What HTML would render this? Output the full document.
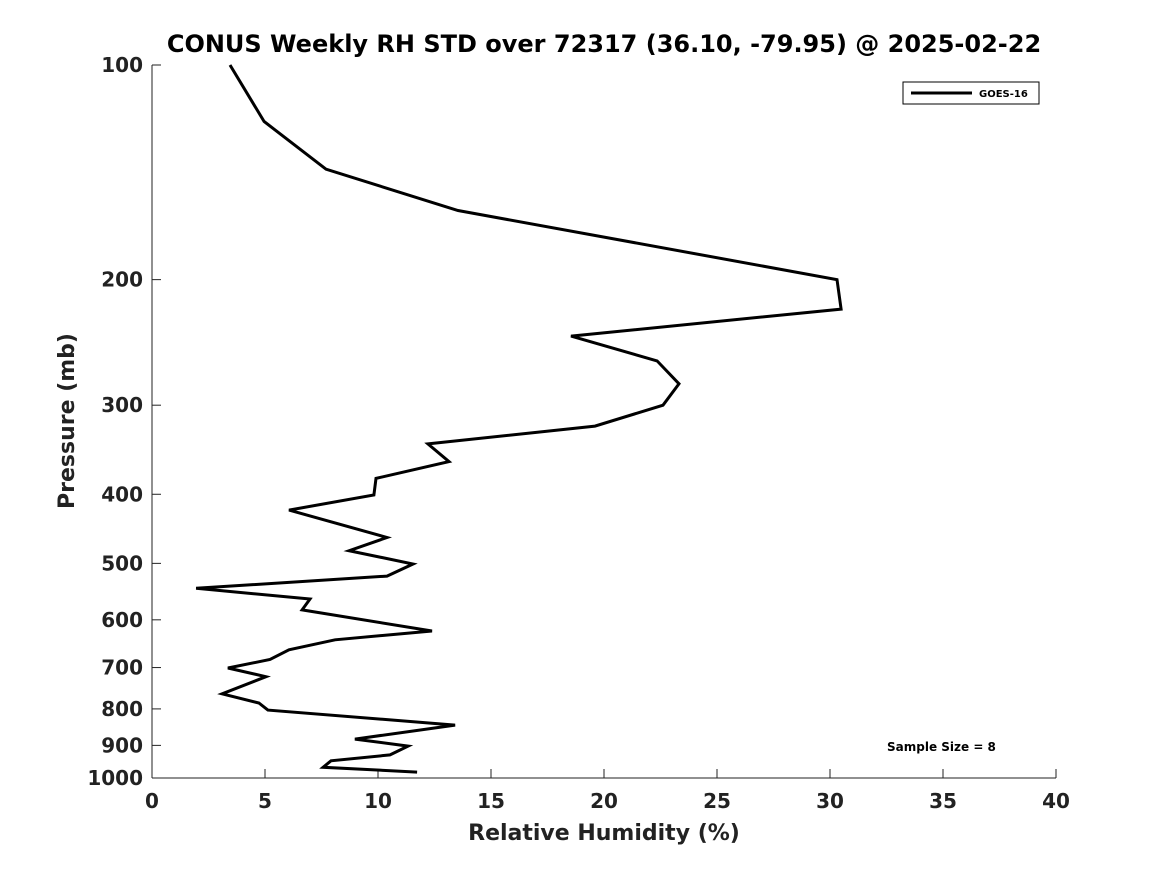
<!DOCTYPE html>
<html><head><meta charset="utf-8"><style>
html,body{margin:0;padding:0;background:#fff;}
svg text{font-family:"DejaVu Sans","Liberation Sans",sans-serif;font-weight:bold;fill:#222;}
</style></head><body>
<svg id="chart" width="1167" height="875" xmlns="http://www.w3.org/2000/svg">
<rect width="1167" height="875" fill="#fff"/>
<text x="604" y="52" font-size="24" text-anchor="middle" style="fill:#000">CONUS Weekly RH STD over 72317 (36.10, -79.95) @ 2025-02-22</text>
<g id="axes"></g>
<path id="series" fill="none" stroke="#000" stroke-width="3" stroke-linejoin="miter"/>
<g>
<rect x="903" y="82" width="136" height="22" fill="#fff" stroke="#000" stroke-width="1"/>
<line x1="911" y1="93" x2="972" y2="93" stroke="#000" stroke-width="3"/>
<text x="979" y="97" font-size="10" style="fill:#000">GOES-16</text>
</g>
<text x="887" y="751" font-size="12" style="fill:#000">Sample Size = 8</text>
<text x="604" y="840" font-size="22" text-anchor="middle">Relative Humidity (%)</text>
<text transform="translate(74,421) rotate(-90)" font-size="22" text-anchor="middle">Pressure (mb)</text>
</svg>
<script>
const rhValues=[3.45,4.96,7.70,13.54,30.31,30.49,18.54,22.35,23.32,22.61,19.60,12.21,13.14,9.91,9.82,6.06,10.40,8.72,11.55,10.40,1.95,6.99,6.64,12.39,8.10,6.06,5.22,3.36,5.04,3.10,4.73,5.13,13.41,8.98,11.33,10.53,7.92,7.57,11.73];
const pressures=[100,120,140,160,200,220,240,260,280,300,321,340,360,380,401,421,460,480,501,521,542,561,581,622,640,661,682,701,721,762,785,803,843,882,902,928,946,966,981];
const xTicks=[0,5,10,15,20,25,30,35,40];
const yTicks=[100,200,300,400,500,600,700,800,900,1000];
const X0=152,X1=1056,Y0=65,Y1=778;
function xs(v){return X0+(v-0)/(40-0)*(X1-X0);}
function ys(p){return Y0+(Math.log10(p)-2)/(3-2)*(Y1-Y0);}
const NS="http://www.w3.org/2000/svg";
const ax=document.getElementById('axes');
function mk(t,a){const e=document.createElementNS(NS,t);for(const k in a)e.setAttribute(k,a[k]);ax.appendChild(e);return e;}
let l=mk('line',{x1:X0,y1:Y0,x2:X0,y2:Y1,stroke:'#222','stroke-width':1});


l=mk('line',{x1:X0,y1:Y1,x2:X1,y2:Y1,stroke:'#222','stroke-width':1});


xTicks.forEach(v=>{
 const x=xs(v);
 const t=mk('line',{x1:x,y1:Y1,x2:x,y2:Y1-9,stroke:'#222'});
 
 
 const s=mk('text',{x:x,y:808,'font-size':20,'text-anchor':'middle'});
 s.textContent=v;
 
 
});
yTicks.forEach(p=>{
 const y=ys(p);
 const t=mk('line',{x1:X0,y1:y,x2:X0+9,y2:y,stroke:'#222'});
 
 
 const s=mk('text',{x:143,y:y+7,'font-size':20,'text-anchor':'end'});
 s.textContent=p;
 
 
});
document.getElementById('series').setAttribute('d',rhValues.map((v,i)=>(i?'L':'M')+xs(v).toFixed(1)+','+ys(pressures[i]).toFixed(1)).join(' '));
</script>
</body></html>
